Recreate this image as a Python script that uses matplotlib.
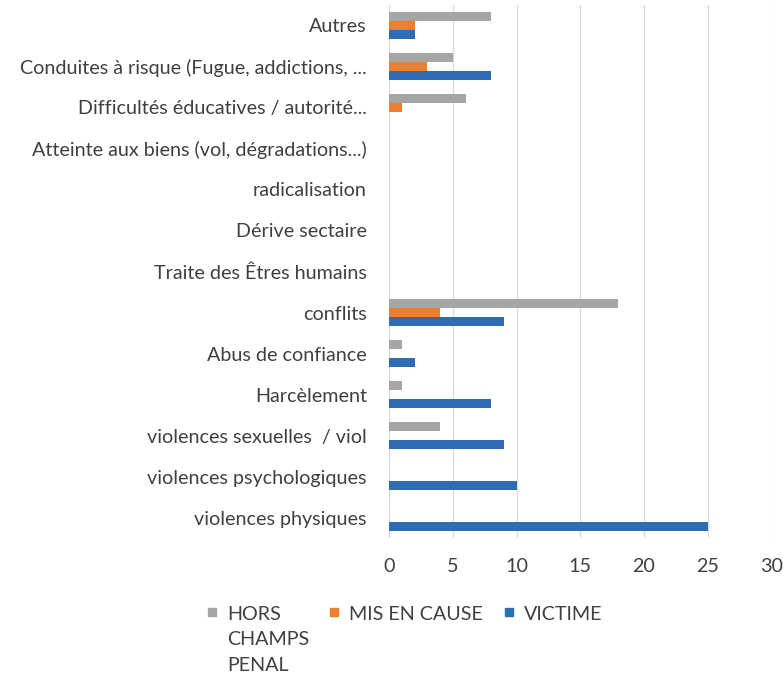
import matplotlib.pyplot as plt
import matplotlib.patches as patches
import numpy as np

# categories listed bottom to top, as drawn on the y axis
categories = [
    "violences physiques",
    "violences psychologiques",
    "violences sexuelles  / viol",
    "Harcèlement",
    "Abus de confiance",
    "conflits",
    "Traite des Êtres humains",
    "Dérive sectaire",
    "radicalisation",
    "Atteinte aux biens (vol, dégradations...)",
    "Difficultés éducatives / autorité...",
    "Conduites à risque (Fugue, addictions, ...",
    "Autres",
]
victime = [25, 10, 9, 8, 2, 9, 0, 0, 0, 0, 0, 8, 2]
mis_en_cause = [0, 0, 0, 0, 0, 4, 0, 0, 0, 0, 1, 3, 2]
hors_champs = [0, 0, 4, 1, 1, 18, 0, 0, 0, 0, 6, 5, 8]

series_labels = ["HORS\nCHAMPS\nPENAL", "MIS EN CAUSE", "VICTIME"]
colors = ["#A5A5A5", "#ED7D31", "#2E6DB4"]
xticks = [0, 5, 10, 15, 20, 25, 30]

text_color = "#404040"
font = "Lato"
fs = 14.2

fig = plt.figure(figsize=(7.83, 6.78), dpi=100)
ax = fig.add_axes([0.497, 0.206, 0.488, 0.787])

y = np.arange(len(categories))
h = 0.22
ax.barh(y - h, victime, height=h, color=colors[2], zorder=3)
ax.barh(y, mis_en_cause, height=h, color=colors[1], zorder=3)
ax.barh(y + h, hors_champs, height=h, color=colors[0], zorder=3)

ax.set_ylim(-0.5, len(categories) - 0.5)
ax.set_xlim(0, 30)
ax.set_xticks(xticks)
ax.set_yticks(y)
ax.set_yticklabels(categories, fontsize=fs, color=text_color, family=font)
ax.set_xticklabels([str(t) for t in xticks], fontsize=fs, color=text_color, family=font)
ax.tick_params(axis="y", length=0, pad=16)
ax.tick_params(axis="x", length=0, pad=14)
ax.grid(axis="x", color="#D9D9D9", lw=0.9, zorder=0)
for s in ax.spines.values():
    s.set_visible(False)

# legend drawn by hand so the wrapped label stays top aligned
leg_x = [208, 330, 505]
for lab, col, lx in zip(series_labels, colors, leg_x):
    fig.patches.append(patches.Rectangle((lx / 783, 1 - 616 / 678), 8 / 783, 8 / 678,
                                         transform=fig.transFigure, color=col))
    fig.text((lx + 19) / 783, 1 - 606 / 678, lab, fontsize=fs, color=text_color,
             family=font, va="top", ha="left", linespacing=1.6)

fig.savefig("out.png", dpi=100)
